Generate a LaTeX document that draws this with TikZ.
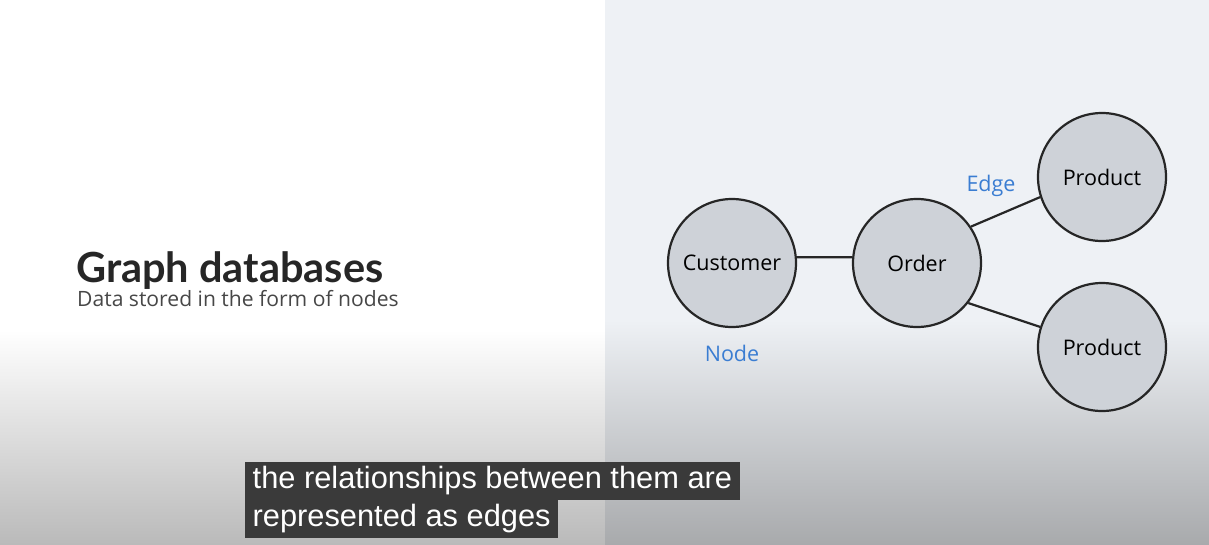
\documentclass[tikz,border=0pt]{standalone}
\usepackage{fontspec}
\setmainfont{Open Sans}
\newfontfamily\headfont{Lato}
\newfontfamily\capfont{Liberation Sans}
\definecolor{panel}{HTML}{EEF1F5}
\definecolor{ringfill}{HTML}{CED2D8}
\definecolor{ink}{HTML}{262626}
\definecolor{tagblue}{HTML}{3A7DD2}
\definecolor{capbox}{HTML}{3A3A3A}
\begin{document}
\begin{tikzpicture}[x=1pt,y=-1pt,
  ent/.style={circle,draw=ink,line width=2.2pt,fill=ringfill,minimum size=128pt,inner sep=0pt,font=\fontsize{21.5}{24}\selectfont},
  tag/.style={text=tagblue,font=\fontsize{21.5}{24}\selectfont},
  capline/.style={fill=capbox,text=white,anchor=north west,inner xsep=7.5pt,inner ysep=0pt,minimum height=37.5pt,text height=22pt,text depth=6pt,font=\capfont\fontsize{30.8}{34}\selectfont}]
\useasboundingbox (0,0) rectangle (1209,544);
% backdrop
\fill[white] (0,0) rectangle (605,330);
\shade[top color=white,bottom color=black!27] (0,330) rectangle (605,544);
\fill[panel] (605,0) rectangle (1209,320);
\shade[top color=panel,bottom color=black!25!panel!80!gray] (605,320) rectangle (1209,544);
% heading
\node[anchor=base west,inner sep=0pt,text=ink,font=\headfont\fontsize{41.5}{46}\selectfont\bfseries] (head) at (76,282) {Graph databases};
\node[anchor=base west,inner sep=0pt,text=ink!85,font=\fontsize{21.1}{24}\selectfont] (sub) at (77,306) {Data stored in the form of nodes};
% graph
\node[ent] (cust) at (732,263) {Customer};
\node[ent] (order) at (917,263) {Order};
\node[ent] (prodA) at (1102,177) {Product};
\node[ent] (prodB) at (1102,347) {Product};
\draw[ink,line width=2.2pt] (cust.5) -- (order.175) (order.34) -- (prodA.198) (order.322) -- (prodB.162);
\node[tag] (edge) at (991,186) {Edge};
\node[tag] (nodelbl) at (732,353) {Node};
% caption
\node[capline] (capA) at (245,462) {the relationships between them are};
\node[capline] (capB) at (capA.south west) {represented as edges};
\end{tikzpicture}
\end{document}
